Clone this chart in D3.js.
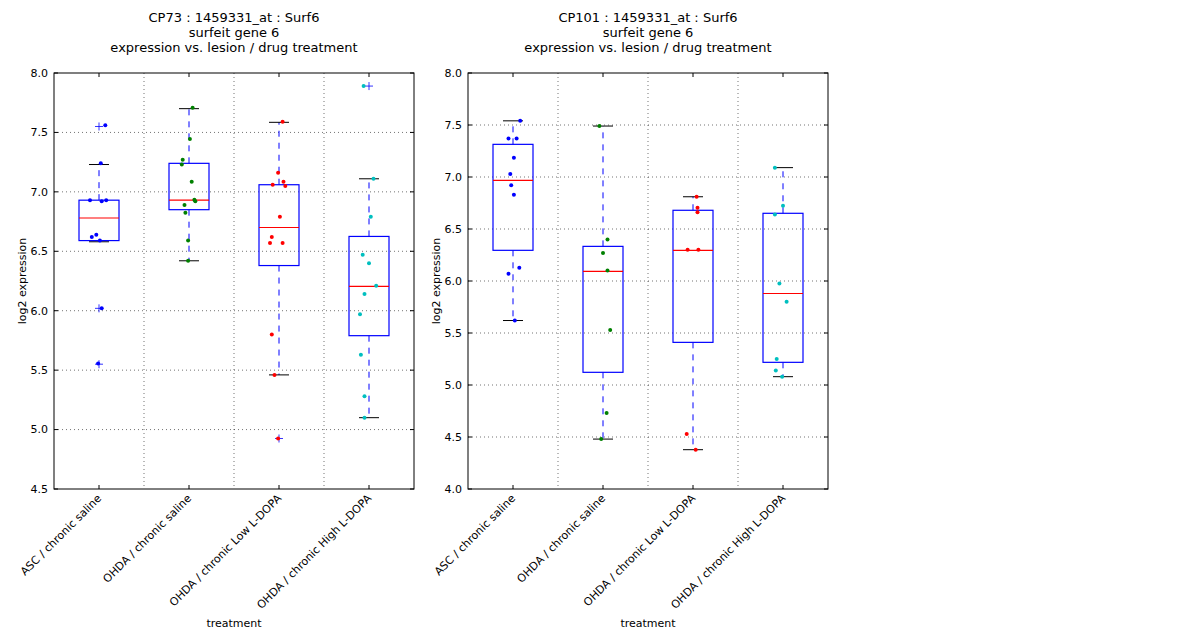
<!DOCTYPE html>
<html>
<head>
<meta charset="utf-8">
<title>Surf6 boxplots</title>
<script src="https://cdn.jsdelivr.net/npm/d3@7"></script>
<style>
body{margin:0;background:#fff;}
text{font-family:"DejaVu Sans",sans-serif;}
</style>
</head>
<body>
<svg width="1200" height="640"></svg>
<script>
var categories = ["ASC / chronic saline","OHDA / chronic saline","OHDA / chronic Low L-DOPA","OHDA / chronic High L-DOPA"];
var colors = ["#0000ff","#008000","#ff0000","#00bfbf"];

// panel 1: CP73
var titles1 = ["CP73 : 1459331_at : Surf6","surfeit gene 6","expression vs. lesion / drug treatment"];
var yTicks1 = [4.5,5.0,5.5,6.0,6.5,7.0,7.5,8.0];
// [q1, median, q3, whiskerLow, whiskerHigh]
var boxes1 = [[6.59,6.78,6.93,6.58,7.23],[6.85,6.93,7.24,6.42,7.70],[6.38,6.70,7.06,5.46,7.585],[5.79,6.205,6.625,5.10,7.11]];
var outliers1 = [[7.55,6.02,5.55],[],[4.925],[7.89]];
// points: [value, jitter in category units]
var points1 = [
 [[7.56,.07],[7.24,.02],[6.93,-.10],[6.92,.03],[6.93,.08],[6.64,-.03],[6.62,-.08],[6.59,.01],[6.02,.03],[5.555,-.01]],
 [[7.708,.04],[7.445,.01],[7.27,-.07],[7.23,-.08],[7.086,.03],[6.934,.06],[6.92,.07],[6.89,-.05],[6.825,-.04],[6.59,-.01],[6.42,-.01]],
 [[7.59,.04],[7.16,-.01],[7.086,.05],[7.06,-.07],[7.05,.07],[6.79,.01],[6.62,-.08],[6.57,-.10],[6.57,.04],[5.80,-.08],[5.46,-.05],[4.925,-.01]],
 [[7.89,-.06],[7.11,.05],[6.79,.02],[6.47,-.07],[6.40,0],[6.21,.08],[6.14,-.05],[5.97,-.10],[5.63,-.09],[5.28,-.05],[5.10,-.05]]
];

// panel 2: CP101
var titles2 = ["CP101 : 1459331_at : Surf6","surfeit gene 6","expression vs. lesion / drug treatment"];
var yTicks2 = [4.0,4.5,5.0,5.5,6.0,6.5,7.0,7.5,8.0];
var boxes2 = [[6.295,6.968,7.314,5.62,7.54],[5.122,6.093,6.333,4.48,7.49],[5.41,6.295,6.68,4.378,6.81],[5.218,5.88,6.651,5.08,7.09]];
var outliers2 = [[],[],[],[]];
var points2 = [
 [[7.541,.08],[7.37,-.05],[7.37,.04],[7.186,.01],[7.03,-.03],[6.92,-.02],[6.83,.01],[6.128,.07],[6.07,-.05],[5.62,.02]],
 [[7.49,-.04],[6.40,.05],[6.27,0],[6.10,.05],[5.53,.08],[4.73,.04],[4.48,-.02]],
 [[6.81,.04],[6.705,.05],[6.66,.05],[6.30,-.06],[6.30,.06],[4.53,-.07],[4.378,.03]],
 [[7.09,-.09],[6.724,0],[6.64,-.09],[5.975,-.04],[5.80,.04],[5.25,-.07],[5.14,-.08],[5.08,-.01]]
];

var svg = d3.select("svg");

function panel(left, titles, yTicks, boxes, outliers, points){
	var top = 73, w = 360, h = 416;
	var g = svg.append("g").attr("transform","translate("+left+","+top+")");
	var x = d3.scaleLinear().domain([0.5,4.5]).range([0,w]);
	var y = d3.scaleLinear().domain([yTicks[0],yTicks[yTicks.length-1]]).range([h,0]);

	// grid
	g.append("g").selectAll("line").data(yTicks.slice(1,-1)).enter().append("line")
		.attr("x1",0).attr("x2",w).attr("y1",y).attr("y2",y)
		.attr("stroke","#000").attr("stroke-opacity",0.55).attr("stroke-dasharray","1,3");
	g.append("g").selectAll("line").data([1.5,2.5,3.5]).enter().append("line")
		.attr("x1",x).attr("x2",x).attr("y1",0).attr("y2",h)
		.attr("stroke","#000").attr("stroke-opacity",0.55).attr("stroke-dasharray","1,3");

	var b = g.append("g").selectAll("g").data(boxes).enter().append("g");
	b.append("line").attr("x1",function(d,i){return x(i+1);}).attr("x2",function(d,i){return x(i+1);})
		.attr("y1",function(d){return y(d[2]);}).attr("y2",function(d){return y(d[4]);})
		.attr("stroke","#0000ff").attr("stroke-dasharray","6,6");
	b.append("line").attr("x1",function(d,i){return x(i+1);}).attr("x2",function(d,i){return x(i+1);})
		.attr("y1",function(d){return y(d[0]);}).attr("y2",function(d){return y(d[3]);})
		.attr("stroke","#0000ff").attr("stroke-dasharray","6,6");
	[3,4].forEach(function(k){
		b.append("line").attr("x1",function(d,i){return x(i+1)-10;}).attr("x2",function(d,i){return x(i+1)+10;})
			.attr("y1",function(d){return y(d[k]);}).attr("y2",function(d){return y(d[k]);})
			.attr("stroke","#000");
	});
	b.append("rect").attr("x",function(d,i){return x(i+1)-20;}).attr("width",40)
		.attr("y",function(d){return y(d[2]);}).attr("height",function(d){return y(d[0])-y(d[2]);})
		.attr("fill","none").attr("stroke","#0000ff").attr("stroke-width",1.2);
	b.append("line").attr("x1",function(d,i){return x(i+1)-20;}).attr("x2",function(d,i){return x(i+1)+20;})
		.attr("y1",function(d){return y(d[1]);}).attr("y2",function(d){return y(d[1]);})
		.attr("stroke","#ff0000").attr("stroke-width",1.2);

	// outliers
	outliers.forEach(function(list,i){
		g.append("g").selectAll("path").data(list).enter().append("path")
			.attr("d",function(v){var cx=x(i+1),cy=y(v);return "M"+(cx-4)+","+cy+"H"+(cx+4)+"M"+cx+","+(cy-4)+"V"+(cy+4);})
			.attr("stroke","#0000ff").attr("stroke-width",0.8);
	});
	// points
	points.forEach(function(list,i){
		g.append("g").selectAll("circle").data(list).enter().append("circle")
			.attr("cx",function(d){return x(i+1+d[1]);}).attr("cy",function(d){return y(d[0]);})
			.attr("r",2).attr("fill",colors[i]);
	});

	// frame
	g.append("rect").attr("width",w).attr("height",h).attr("fill","none").attr("stroke","#000");

	// y ticks
	var yt = g.append("g").selectAll("g").data(yTicks).enter().append("g");
	yt.append("line").attr("x1",0).attr("x2",4).attr("y1",y).attr("y2",y).attr("stroke","#000");
	yt.append("line").attr("x1",w-4).attr("x2",w).attr("y1",y).attr("y2",y).attr("stroke","#000");
	yt.append("text").attr("x",-6).attr("y",y).attr("dy","0.35em").attr("text-anchor","end")
		.attr("font-size",11).text(function(d){return d3.format(".1f")(d);});

	// x ticks
	var xt = g.append("g").selectAll("g").data(categories).enter().append("g");
	xt.append("line").attr("x1",function(d,i){return x(i+1);}).attr("x2",function(d,i){return x(i+1);})
		.attr("y1",h).attr("y2",h-4).attr("stroke","#000");
	xt.append("line").attr("x1",function(d,i){return x(i+1);}).attr("x2",function(d,i){return x(i+1);})
		.attr("y1",0).attr("y2",4).attr("stroke","#000");
	xt.append("text").attr("text-anchor","end").attr("font-size",11)
		.attr("transform",function(d,i){return "translate("+(x(i+1)+3)+","+(h+10)+") rotate(-45)";})
		.text(function(d){return d;});

	g.append("text").attr("x",w/2).attr("y",h+138).attr("text-anchor","middle").attr("font-size",11).text("treatment");
	g.append("text").attr("transform","translate(-28,"+(h/2)+") rotate(-90)").attr("text-anchor","middle")
		.attr("font-size",11).text("log2 expression");
	g.append("g").selectAll("text").data(titles).enter().append("text")
		.attr("x",w/2).attr("y",function(d,i){return -51+i*15;}).attr("text-anchor","middle")
		.attr("font-size",13).text(function(d){return d;});
}

panel(54, titles1, yTicks1, boxes1, outliers1, points1);
panel(468, titles2, yTicks2, boxes2, outliers2, points2);
</script>
</body>
</html>
